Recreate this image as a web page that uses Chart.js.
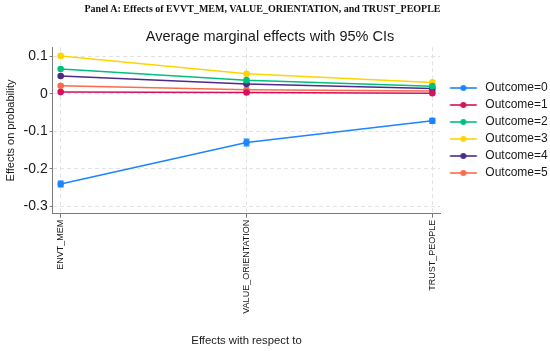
<!DOCTYPE html>
<html><head><meta charset="utf-8">
<script src="https://cdn.jsdelivr.net/npm/chart.js@4"></script>
<style>
html,body{margin:0;padding:0;background:#fff;}
#wrap{position:relative;width:550px;height:351px;overflow:hidden;}
#panel{position:absolute;left:0;top:3px;width:525px;text-align:center;font:bold 10px "Liberation Serif","Times New Roman",serif;color:#111;line-height:12px;white-space:nowrap;}
canvas{position:absolute;left:0;top:0;}
</style></head><body>
<div id="wrap"><canvas id="c" width="550" height="351"></canvas><div id="panel">Panel A: Effects of EVVT_MEM, VALUE_ORIENTATION, and TRUST_PEOPLE</div></div>
<script>
// ---- data ----
const categories = ['ENVT_MEM', 'VALUE_ORIENTATION', 'TRUST_PEOPLE'];
const seriesLabels = ['Outcome=0', 'Outcome=1', 'Outcome=2', 'Outcome=3', 'Outcome=4', 'Outcome=5'];
const outcome0 = [-0.241, -0.130, -0.072];
const outcome1 = [0.005, 0.004, 0.002];
const outcome2 = [0.067, 0.037, 0.021];
const outcome3 = [0.102, 0.054, 0.031];
const outcome4 = [0.048, 0.027, 0.015];
const outcome5 = [0.022, 0.011, 0.008];
const outcome0Lower = [-0.2485, -0.139, -0.0787];
const outcome0Upper = [-0.2335, -0.121, -0.0653];
const yTicks = [-0.3, -0.2, -0.1, 0, 0.1];

const seriesValues = [outcome0, outcome1, outcome2, outcome3, outcome4, outcome5];
const colors = ['#1a85ff', '#d41159', '#00bf7f', '#ffd400', '#4b2a8c', '#fb6a4a'];

function legendIcon(color) {
  const c = document.createElement('canvas');
  c.width = 34; c.height = 10;
  const g = c.getContext('2d');
  g.strokeStyle = color; g.lineWidth = 1.6;
  g.beginPath(); g.moveTo(4.5, 5); g.lineTo(31.5, 5); g.stroke();
  g.fillStyle = color;
  g.beginPath(); g.arc(18, 5, 3, 0, Math.PI * 2); g.fill();
  return c;
}
const icons = colors.map(legendIcon);

const errorBars = {
  id: 'errorBars',
  afterDatasetsDraw(chart) {
    const {ctx, scales: {x, y}} = chart;
    ctx.save();
    ctx.strokeStyle = colors[0];
    ctx.lineWidth = 1.2;
    outcome0.forEach((v, i) => {
      const px = x.getPixelForValue(i);
      const yl = y.getPixelForValue(outcome0Lower[i]);
      const yh = y.getPixelForValue(outcome0Upper[i]);
      ctx.beginPath();
      ctx.moveTo(px, yl); ctx.lineTo(px, yh);
      ctx.moveTo(px - 3, yl); ctx.lineTo(px + 3, yl);
      ctx.moveTo(px - 3, yh); ctx.lineTo(px + 3, yh);
      ctx.stroke();
    });
    ctx.restore();
  }
};

const datasets = seriesValues.map((vals, k) => ({
  label: seriesLabels[k],
  data: vals.map((v, i) => ({x: i, y: v})),
  borderColor: colors[k],
  backgroundColor: colors[k],
  borderWidth: 1.5,
  pointRadius: 3.3,
  pointBorderWidth: 0,
  pointHoverRadius: 3.3,
  tension: 0,
  fill: false
}));

const textColor = '#1a1a1a';
const axisColor = '#7a7a7a';
const gridColor = '#e2e2e2';

new Chart(document.getElementById('c'), {
  type: 'line',
  data: {datasets},
  plugins: [errorBars],
  options: {
    responsive: false,
    animation: false,
    devicePixelRatio: 1,
    layout: {padding: {left: -17.7, right: -7.7, top: 0, bottom: 0}},
    plugins: {
      title: {
        display: true,
        text: 'Average marginal effects with 95% CIs',
        color: textColor,
        font: {family: '"Liberation Sans", Arial, sans-serif', size: 14.5, weight: 'normal'},
        padding: {top: 28.3, bottom: 1.6}
      },
      legend: {
        display: true,
        position: 'right',
        align: 'center',
        fullSize: false,
        labels: {
          usePointStyle: true,
          pointStyleWidth: 34,
          padding: 5,
          color: textColor,
          font: {family: '"Liberation Sans", Arial, sans-serif', size: 12},
          generateLabels(chart) {
            const items = Chart.defaults.plugins.legend.labels.generateLabels(chart);
            items.forEach((it, i) => { it.pointStyle = icons[i]; });
            return items;
          }
        }
      },
      tooltip: {enabled: false}
    },
    scales: {
      x: {
        type: 'linear',
        min: -0.043,
        max: 2.043,
        afterBuildTicks(s) { s.ticks = categories.map((c, i) => ({value: i})); },
        afterFit(s) { s.height = 137.3; },
        ticks: {
          autoSkip: false,
          minRotation: 90,
          maxRotation: 90,
          padding: 2,
          color: textColor,
          font: {family: '"Liberation Sans", Arial, sans-serif', size: 9},
          callback: (v) => categories[v]
        },
        grid: {color: gridColor, tickColor: axisColor, tickLength: 4, lineWidth: 1},
        border: {color: axisColor, width: 1, dash: [4, 3]},
        title: {
          display: true,
          text: 'Effects with respect to',
          color: textColor,
          font: {family: '"Liberation Sans", Arial, sans-serif', size: 11.3},
          padding: {top: 4, bottom: 3}
        }
      },
      y: {
        type: 'linear',
        min: -0.3206,
        max: 0.125,
        afterBuildTicks(s) { s.ticks = yTicks.map(v => ({value: v})); },
        afterFit(s) { s.width = 70.4; },
        ticks: {
          padding: 2,
          color: textColor,
          font: {family: '"Liberation Sans", Arial, sans-serif', size: 14},
          callback: (v) => (Math.abs(v) < 1e-9 ? '0' : v.toFixed(1))
        },
        grid: {color: gridColor, tickColor: axisColor, tickLength: 3, lineWidth: 1},
        border: {color: axisColor, width: 1, dash: [4, 3]},
        title: {
          display: true,
          text: 'Effects on probability',
          color: textColor,
          font: {family: '"Liberation Sans", Arial, sans-serif', size: 11},
          padding: {top: 21.6, bottom: 0}
        }
      }
    }
  }
});
</script>
</body></html>
